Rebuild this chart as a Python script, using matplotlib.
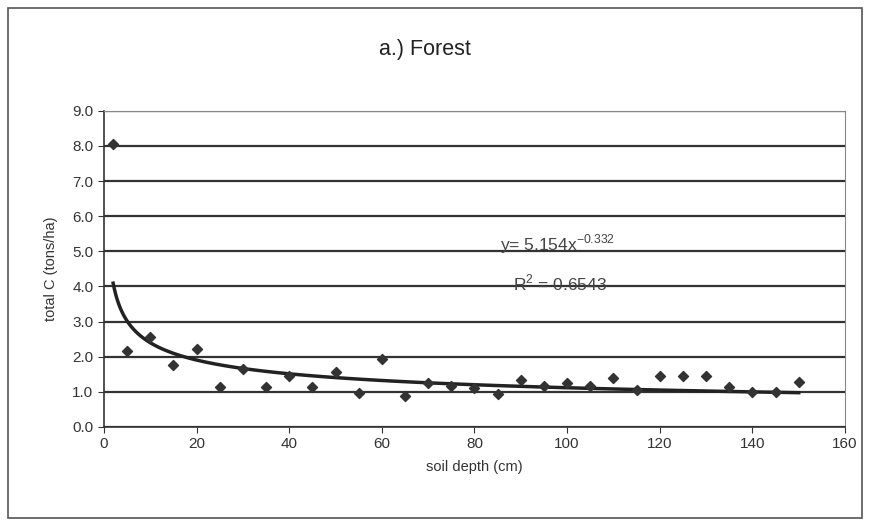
import numpy as np
import matplotlib.pyplot as plt
from matplotlib.patches import Rectangle

plt.rcParams['font.family'] = ['Liberation Sans', 'DejaVu Sans']
plt.rcParams['mathtext.fontset'] = 'custom'
plt.rcParams['mathtext.rm'] = 'Liberation Sans'
plt.rcParams['axes.unicode_minus'] = False

depth = [2, 5, 10, 15, 20, 25, 30, 35, 40, 45, 50, 55, 60, 65, 70, 75,
         80, 85, 90, 95, 100, 105, 110, 115, 120, 125, 130, 135, 140, 145, 150]
total_c = [8.05, 2.16, 2.55, 1.77, 2.23, 1.15, 1.64, 1.15, 1.45, 1.15, 1.56,
           0.96, 1.93, 0.88, 1.24, 1.17, 1.10, 0.94, 1.34, 1.18, 1.24, 1.18,
           1.39, 1.05, 1.45, 1.45, 1.45, 1.15, 1.01, 1.01, 1.29]

# power trendline as printed on the chart
trend_a = 5.154
trend_b = -0.332
r_squared = 0.6543

fig = plt.figure(figsize=(8.73, 5.23), dpi=100)
fig.patches.append(Rectangle((0.009, 0.01), 0.978, 0.975, transform=fig.transFigure,
                             fill=False, edgecolor='#555555', linewidth=1.2))
ax = fig.add_axes([0.119, 0.1836, 0.849, 0.6044])

xs = np.geomspace(min(depth), max(depth), 120)
ax.plot(xs, trend_a * xs ** trend_b, color='#222222', linewidth=2.5, zorder=3)
ax.scatter(depth, total_c, marker='D', s=26, color='#333333', zorder=4)

ax.set_xlim(0, 160)
ax.set_ylim(0, 9)
ax.set_xticks(range(0, 161, 20))
ax.set_yticks(np.arange(0, 9.1, 1.0))
ax.set_yticklabels([f'{v:.1f}' for v in np.arange(0, 9.1, 1.0)])
ax.yaxis.grid(True, color='#333333', linewidth=1.6)
ax.set_axisbelow(True)
ax.tick_params(labelsize=11, colors='#333333', direction='out', length=4)
for side in ['top', 'right']:
    ax.spines[side].set_color('#888888')
for side in ['left', 'bottom']:
    ax.spines[side].set_color('#333333')
    ax.spines[side].set_linewidth(1.2)

ax.set_xlabel('soil depth (cm)', fontsize=10.5, color='#333333', labelpad=6)
ax.set_ylabel('total C (tons/ha)', fontsize=10.5, color='#333333', labelpad=10)
fig.text(0.487, 0.905, 'a.) Forest', fontsize=15.5, ha='center', va='center', color='#222222')

ax.text(85.5, 5.2, f'y= {trend_a}x$^{{\\mathrm{{{trend_b}}}}}$', fontsize=12.5,
        color='#444444', va='center')
ax.text(88.3, 4.1, f'R$^{{\\mathrm{{2}}}}$ = {r_squared}', fontsize=12.5,
        color='#444444', va='center')

fig.savefig('out.png', dpi=100)
